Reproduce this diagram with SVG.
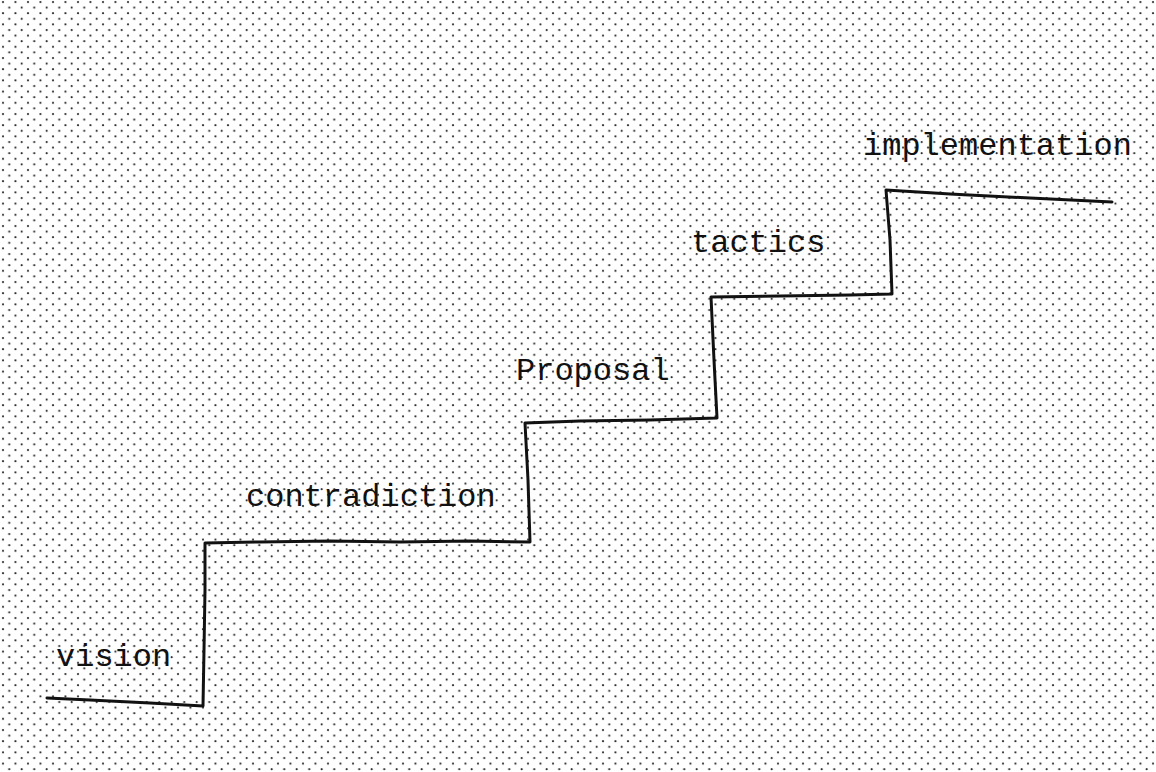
<svg xmlns="http://www.w3.org/2000/svg" width="1156" height="772" viewBox="0 0 1156 772">
  <defs>
    <!-- staggered dot screen for the paper -->
    <pattern id="dots" x="0" y="0" width="12.5" height="11.2" patternUnits="userSpaceOnUse">
      <circle cx="3" cy="2" r="1" fill="#1a1a1a"/>
      <circle cx="9.25" cy="7.6" r="1" fill="#1a1a1a"/>
    </pattern>
    <style>
      .label { font-family: "Courier New", "Liberation Mono", monospace; font-size: 32px; fill: #111; }
      .stair { fill: none; stroke: #111; stroke-width: 3; stroke-linejoin: round; stroke-linecap: round; }
    </style>
  </defs>

  <rect width="1156" height="772" fill="#ffffff"/>
  <rect width="1156" height="772" fill="url(#dots)"/>

  <!-- the staircase -->
  <g id="connectors">
    <path class="stair" d="M47,698 L90,700 L150,703 L203,706
                           L204,650 L205,590 L205,543
                           L260,542 L330,541 L400,542 L470,541 L530,542
                           L528,480 L525,423
                           L580,421 L650,420 L717,418
                           L714,360 L711,297
                           L780,296 L850,295 L892,294
                           L890,240 L886,190
                           L950,194 L1030,198 L1112,202"/>
  </g>

  <g id="vision"><text class="label" x="56" y="666">vision</text></g>
  <g id="contradiction"><text class="label" x="246" y="506">contradiction</text></g>
  <g id="proposal"><text class="label" x="516" y="380">Proposal</text></g>
  <g id="tactics"><text class="label" x="691" y="252">tactics</text></g>
  <g id="implementation"><text class="label" x="863" y="155">implementation</text></g>
</svg>
